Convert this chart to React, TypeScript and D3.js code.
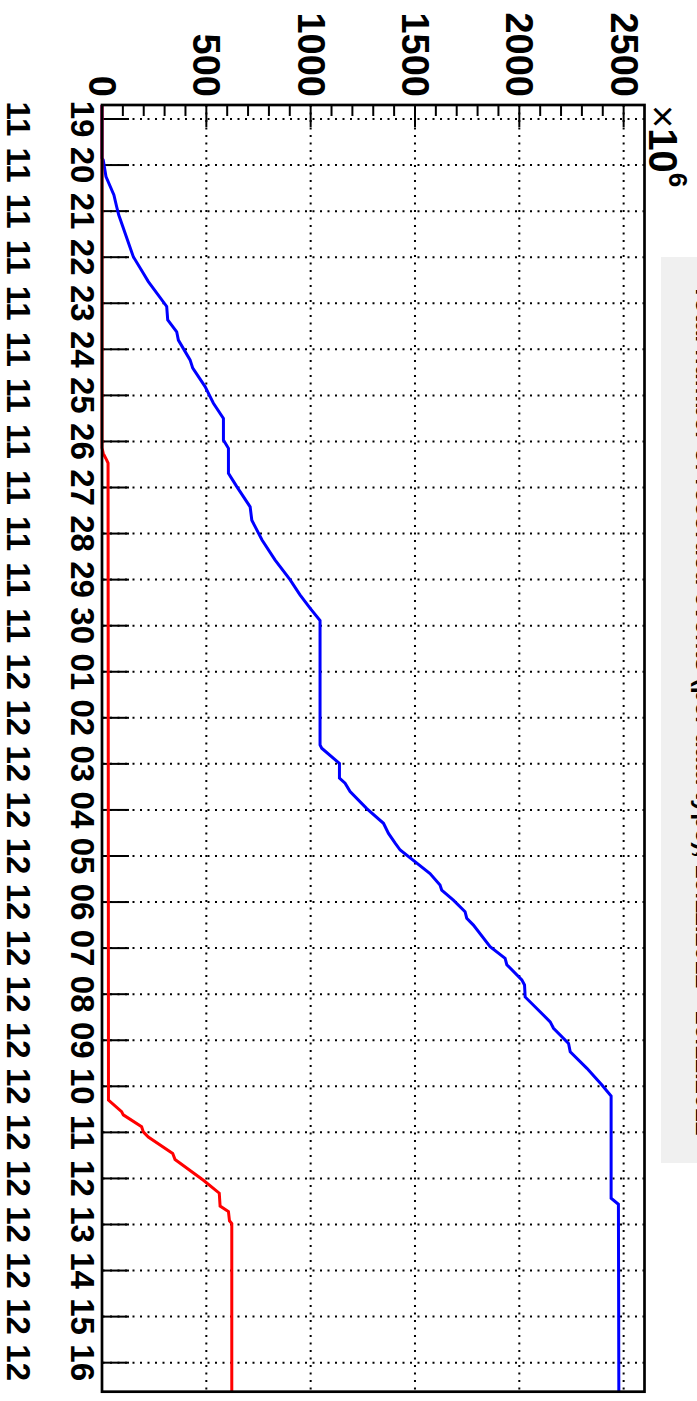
import React from 'react';
import * as d3 from 'd3';

// days since 19 Nov, cumulative values (x10^6)
const blueDays = [-0.304, 0.85, 0.89, 1.25, 1.65, 1.9, 2.08, 2.99, 3.35, 3.53, 4.07, 4.36, 4.62, 4.8, 5.23, 5.41, 5.81, 6.17, 6.5, 6.97, 7.15, 7.69, 7.98, 8.42, 8.71, 9.14, 9.57, 10.0, 10.33, 10.62, 10.89, 13.59, 13.66, 13.99, 14.31, 14.42, 14.6, 14.97, 15.29, 15.51, 15.72, 15.87, 16.38, 16.63, 16.74, 16.96, 17.21, 17.35, 17.5, 17.97, 18.22, 18.36, 18.69, 18.8, 19.06, 19.6, 19.74, 20.07, 20.25, 20.61, 20.97, 21.21, 23.43, 23.56, 27.63];
const blueValues = [0, 0, 6, 19, 57, 70, 80, 150, 198, 222, 310, 315, 358, 366, 422, 435, 494, 534, 582, 582, 606, 606, 646, 710, 718, 767, 829, 901, 949, 997, 1045, 1045, 1053, 1138, 1138, 1165, 1189, 1269, 1349, 1373, 1405, 1429, 1572, 1620, 1628, 1684, 1740, 1748, 1780, 1860, 1932, 1940, 2012, 2025, 2028, 2148, 2164, 2236, 2244, 2324, 2396, 2440, 2440, 2475, 2477];

const redDays = [-0.304, 7.14, 7.26, 7.4, 7.47, 14.0, 21.3, 21.55, 21.62, 21.88, 21.99, 22.1, 22.46, 22.59, 23.04, 23.32, 23.6, 23.72, 23.92, 23.98, 27.63];
const redValues = [0, 0, 6, 22, 29, 30, 31, 94, 102, 190, 198, 222, 339, 350, 486, 562, 566, 606, 611, 622, 622];

const valueTicks = [0, 500, 1000, 1500, 2000, 2500];
const titleText = 'Total number of recorded events (per data type), 19.11.2012 - 16.12.2012';

const DAY = 86400000;
const t0 = Date.UTC(2012, 10, 19);

export default function App() {
  const W = 1401, H = 697;
  const left = 105, right = 1391.7, top = 52.5, bottom = 595;

  const x = d3.scaleUtc()
    .domain([new Date(t0 - 0.304 * DAY), new Date(t0 + 27.63 * DAY)])
    .range([left, right]);
  const y = d3.scaleLinear().domain([0, 2600]).range([bottom, top]);

  const line = d3.line<[number, number]>()
    .x(d => x(new Date(t0 + d[0] * DAY)))
    .y(d => y(d[1]));

  const blue = blueDays.map((d, i) => [d, blueValues[i]] as [number, number]);
  const red = redDays.map((d, i) => [d, redValues[i]] as [number, number]);

  const dayTicks = d3.utcDay.range(new Date(t0), x.domain()[1]);
  const minorTicks = d3.range(0, 2600, 100).filter(v => v % 500 !== 0);
  const fmtDay = d3.utcFormat('%d');
  const fmtMonth = d3.utcFormat('%m');

  const font = '"Liberation Sans", Arial, Helvetica, sans-serif';
  const dots = '2 5.5';

  return (
    <svg width={H} height={W} style={{ position: 'absolute', left: 0, top: 0, background: '#fff' }}>
      <g transform={`translate(${H},0) rotate(90)`} fontFamily={font}>
        <rect x={257} y={-10} width={906} height={46} fill="#f0f0f0" />
        <text x={710} y={1} textAnchor="middle" fontSize={25} fontWeight="bold">{titleText}</text>

        {/* grid */}
        {valueTicks.filter(v => v > 0).map(v =>
          <line key={'gy' + v} x1={left} x2={right} y1={y(v)} y2={y(v)} stroke="#000" strokeWidth={2} strokeDasharray={dots} />
        )}
        {dayTicks.map(t =>
          <line key={'gx' + t.getTime()} x1={x(t)} x2={x(t)} y1={top} y2={bottom} stroke="#000" strokeWidth={2} strokeDasharray={dots} />
        )}

        {/* ticks */}
        {valueTicks.map(v =>
          <line key={'ty' + v} x1={left} x2={left + 22} y1={y(v)} y2={y(v)} stroke="#000" strokeWidth={2} />
        )}
        {minorTicks.map(v =>
          <line key={'my' + v} x1={left} x2={left + 11} y1={y(v)} y2={y(v)} stroke="#000" strokeWidth={2} />
        )}
        {dayTicks.map(t =>
          <line key={'tx' + t.getTime()} x1={x(t)} x2={x(t)} y1={bottom} y2={bottom - 27} stroke="#000" strokeWidth={2} />
        )}

        <path d={line(blue) || ''} fill="none" stroke="#0000ff" strokeWidth={3} />
        <path d={line(red) || ''} fill="none" stroke="#ff0000" strokeWidth={3} />

        <rect x={left} y={top} width={right - left} height={bottom - top} fill="none" stroke="#000" strokeWidth={2.7} />

        {/* labels */}
        {valueTicks.map(v =>
          <text key={'ly' + v} x={97} y={y(v)} textAnchor="end" dominantBaseline="central" fontSize={38} fontWeight="bold">{v}</text>
        )}
        {dayTicks.map(t =>
          <g key={'lx' + t.getTime()} fontSize={33} fontWeight="bold" textAnchor="middle">
            <text x={x(t)} y={615} dominantBaseline="central">{fmtDay(t)}</text>
            <text x={x(t)} y={679} dominantBaseline="central">{fmtMonth(t)}</text>
          </g>
        )}
        <text x={105} y={48} fontSize={40}>
          <tspan>×</tspan>
          <tspan fontWeight="bold">10</tspan>
          <tspan fontWeight="bold" fontSize={26} dy={-20}>6</tspan>
        </text>
      </g>
    </svg>
  );
}
